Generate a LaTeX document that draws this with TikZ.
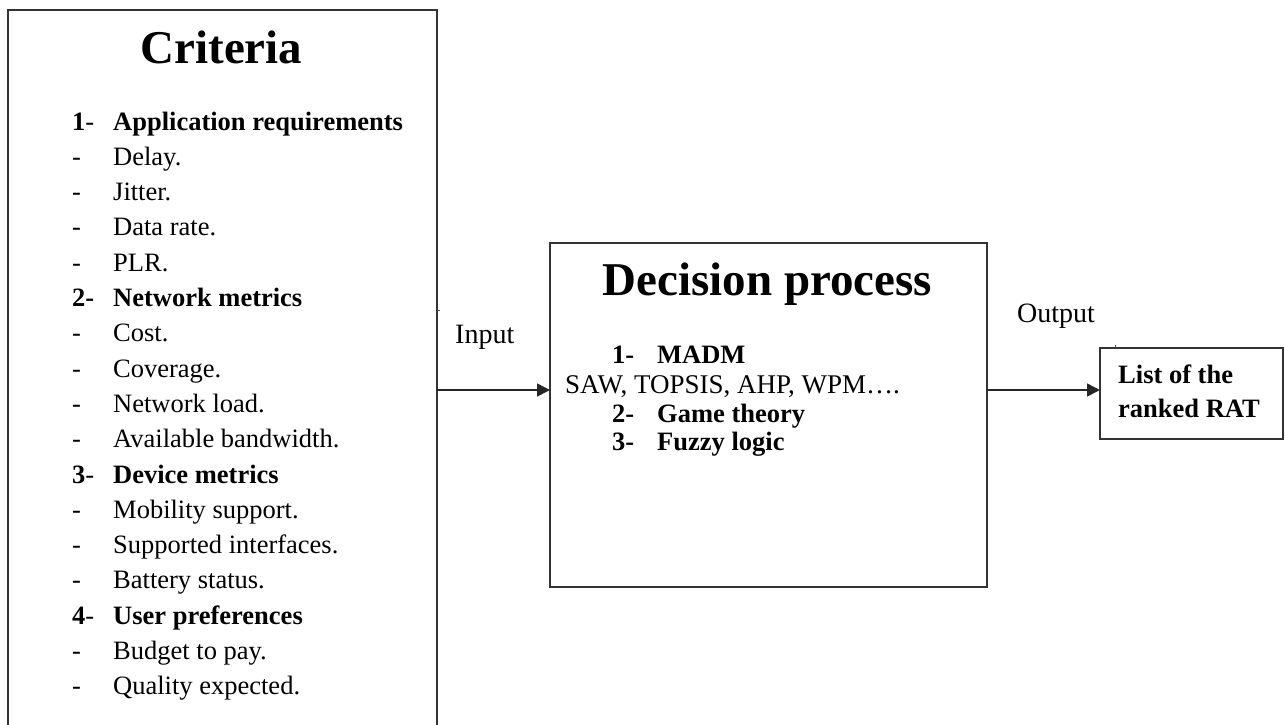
\documentclass[tikz,border=0pt]{standalone}
\usepackage{fontspec}
\setmainfont{Liberation Serif}
\usetikzlibrary{arrows.meta}
\begin{document}
\begin{tikzpicture}[x=1pt,y=-1pt,
  box/.style={draw=black!80, line width=1.4pt, rectangle, inner sep=0pt, outer sep=0pt, anchor=north west},
  txt/.style={inner sep=0pt, anchor=base west, font=\fontsize{26.5}{30}\selectfont},
  btxt/.style={txt, font=\fontsize{26.5}{30}\selectfont\bfseries},
  lbl/.style={inner sep=0pt, anchor=base west, font=\fontsize{28}{32}\selectfont},
  heading/.style={inner sep=0pt, anchor=base, font=\fontsize{47}{52}\selectfont\bfseries},
  arr/.style={line width=1.5pt, draw=black!85, -{Triangle[length=13pt,width=13pt]}}]
\useasboundingbox (0,0) rectangle (1285,724);
\clip (0,0) rectangle (1285,724);
\fill[white] (0,0) rectangle (1285,724);

% boxes
\node[box, minimum width=429pt, minimum height=740pt] (crit) at (8,10) {};
\node[box, minimum width=437pt, minimum height=344pt] (dec) at (550,243) {};
\node[box, minimum width=183pt, minimum height=91pt] (out) at (1100,348) {};

% criteria list
\node[heading] (crittitle) at (221.5,63) {Criteria};
\foreach \mk/\tx [count=\i from 0] in {
  {\textbf{1}-}/{\textbf{Application requirements}},
  -/Delay., -/Jitter., -/Data rate., -/PLR.,
  {\textbf{2-}}/{\textbf{Network metrics}},
  -/Cost., -/Coverage., -/Network load., -/Available bandwidth.,
  {\textbf{3}-}/{\textbf{Device metrics}},
  -/Mobility support., -/Supported interfaces., -/Battery status.,
  {\textbf{4}-}/{\textbf{User preferences}},
  -/Budget to pay., -/Quality expected.}
{
  \node[txt] (mk\i) at (72,130+35.3*\i) {\mk};
  \node[txt] (it\i) at (113,130+35.3*\i) {\tx};
}

% decision process
\node[heading] (dectitle) at (767.5,295) {Decision process};
\node[btxt] (d1n) at (612,363) {1-};
\node[btxt] (d1) at (657,363) {MADM};
\node[txt, font=\fontsize{27}{30}\selectfont] (d1s) at (565,393) {SAW, TOPSIS, AHP, WPM….};
\node[btxt] (d2n) at (612,422) {2-};
\node[btxt] (d2) at (657,422) {Game theory};
\node[btxt] (d3n) at (612,450) {3-};
\node[btxt] (d3) at (657,450) {Fuzzy logic};

% result
\node[btxt] (r1) at (1118,383) {List of the};
\node[btxt] (r2) at (1118,417) {ranked RAT};

% connectors
\coordinate (lvl) at (0,390);
\draw[arr] (crit.east |- lvl) -- (dec.west |- lvl);
\draw[arr] (dec.east |- lvl) -- (out.west |- lvl);
\node[lbl] (inlbl) at (455,343) {Input};
\node[lbl] (outlbl) at (1017,322) {Output};

% small stray ticks
\coordinate (t1) at (0,310);
\draw[line width=1pt, black!70] (crit.east |- t1) -- ++(3,0);
\coordinate (t2) at (1115,0);
\draw[line width=1pt, black!70] (out.north -| t2) -- ++(0,-3);
\end{tikzpicture}
\end{document}
